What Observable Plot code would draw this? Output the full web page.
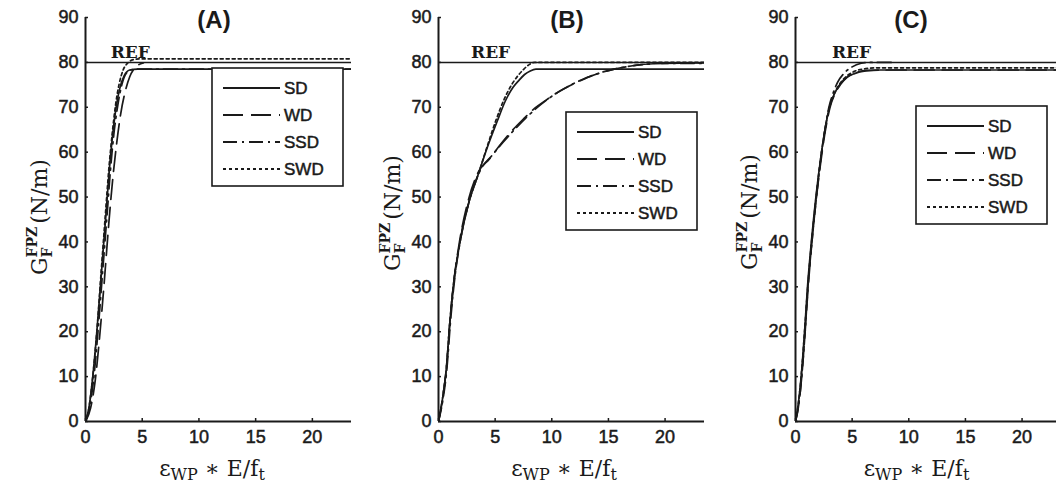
<!DOCTYPE html>
<html><head><meta charset="utf-8">
<script src="https://cdn.jsdelivr.net/npm/d3@7"></script>
<script src="https://cdn.jsdelivr.net/npm/@observablehq/plot@0.6"></script>
<style>
html,body{margin:0;padding:0;background:#fff;}
#wrap{position:relative;width:1056px;height:483px;overflow:hidden;background:#fff;}
#wrap svg{position:absolute;top:0;}
#wrap [aria-label$="tick label"] text, #wrap .legtext {stroke:#1a1a1a; stroke-width:0.5px;}
</style></head><body><div id="wrap"></div>
<script>
// ---------- data ----------
const seriesNames = ["SD", "WD", "SSD", "SWD"];
const panelTitles = ["(A)", "(B)", "(C)"];
const refValue = 80;
const refLabel = "REF";
const refLabelX = [3.95, 4.6, 4.95];
const xTicks = [0, 5, 10, 15, 20];
const yTicks = [0, 10, 20, 30, 40, 50, 60, 70, 80, 90];

// Panel A
const A_SD  = [[0,0],[0.3,3],[0.6,9],[1.0,20],[1.4,33],[1.8,46],[2.1,56],[2.4,64],[2.7,70],[3.0,74],[3.4,77],[3.9,78.3],[4.6,78.5],[23.5,78.5]];
const A_WD  = [[0,0],[0.45,3],[0.85,9],[1.25,19],[1.65,31],[2.05,44],[2.4,54],[2.75,62],[3.1,68.5],[3.5,73.5],[3.9,76.8],[4.3,78.6],[4.7,79.5],[5.1,79.9]];
const A_SSD = [[0,0],[0.35,3],[0.7,9],[1.1,20],[1.5,33],[1.9,46],[2.2,56],[2.5,64],[2.85,70.5],[3.2,75],[3.6,77.6],[4.1,78.4],[4.6,78.5],[23.5,78.5]];
const A_SWD = [[0,0],[0.3,3],[0.6,9],[1.0,20],[1.4,34],[1.75,46],[2.05,56],[2.35,64],[2.65,70.5],[2.95,75],[3.3,78.2],[3.7,79.8],[4.2,80.6],[4.8,80.8],[23.5,80.8]];

// Panel B
const B_SD  = [[0,0],[0.35,5],[0.7,12],[1.0,22],[1.3,30],[1.9,40],[2.7,49],[3.5,55],[4.3,61],[5.2,67],[5.9,71.4],[6.6,74.5],[7.1,76],[7.6,77.3],[8.1,78.1],[8.6,78.5],[23.5,78.5]];
const B_WD  = [[0,0],[0.35,5],[0.7,12],[1.0,22],[1.3,30],[1.85,40],[2.6,49],[3.5,55.5],[4.5,58.5],[5.5,61.8],[6.5,64.8],[7.5,67.4],[8.5,69.8],[9.5,71.6],[10.5,73.3],[11.5,74.7],[12.5,75.9],[13.5,77],[14.5,77.8],[15.5,78.5],[17,79.2],[19,79.7],[23.5,79.9]];
const B_SSD = [[0,0],[0.4,5],[0.75,12],[1.05,22],[1.35,30],[1.9,40],[2.7,49],[3.7,56],[4.7,59.2],[5.7,62.2],[6.7,65],[7.7,67.6],[8.7,69.9],[9.7,71.9],[10.7,73.6],[11.7,75],[12.7,76.2],[13.7,77.2],[14.7,78],[15.7,78.6],[17,79.2],[18.5,79.6],[20,79.8],[23.5,79.8]];
const B_SWD = [[0,0],[0.35,5],[0.7,12],[1.0,22],[1.3,30],[1.9,40],[2.7,49],[3.5,55],[4.3,61.3],[5.1,67.3],[5.8,71.8],[6.5,75.2],[7.0,77],[7.5,78.4],[8.0,79.5],[8.5,80],[23.5,80]];

// Panel C
const C_SD  = [[0,0],[0.25,4],[0.5,10],[0.8,20],[1.06,30],[1.4,40],[1.8,50],[2.3,60],[2.6,65],[3.0,70],[3.4,72.8],[3.9,75],[4.5,76.6],[5.2,77.5],[6.2,78.1],[7.5,78.3],[23.5,78.3]];
const C_WD  = [[0,0],[0.3,4],[0.55,10],[0.85,20],[1.12,30],[1.45,40],[1.85,50],[2.35,60],[2.65,65],[3.05,70],[3.45,72.8],[3.95,75],[4.6,76.8],[5.3,77.7],[6.3,78.2],[7.5,78.3],[23.5,78.3]];
const C_SSD = [[0,0],[0.3,4],[0.55,10],[0.85,20],[1.1,30],[1.45,40],[1.85,50],[2.3,60],[2.6,65],[2.95,70],[3.3,73],[3.7,75.5],[4.3,77.6],[5.0,79],[5.8,79.8],[6.5,80],[8.5,80]];
const C_SWD = [[0,0],[0.25,4],[0.5,10],[0.8,20],[1.08,30],[1.42,40],[1.82,50],[2.3,60],[2.6,65],[3.0,70],[3.4,72.9],[3.9,75.2],[4.5,76.9],[5.2,78],[6.2,78.6],[7.5,78.8],[23.5,78.8]];

const panelSeries = [
  {SD: A_SD, WD: A_WD, SSD: A_SSD, SWD: A_SWD},
  {SD: B_SD, WD: B_WD, SSD: B_SSD, SWD: B_SWD},
  {SD: C_SD, WD: C_WD, SSD: C_SSD, SWD: C_SWD}
];

// ---------- styling / layout ----------
const ink = "#1a1a1a";
const dashes = {SD: null, WD: "20,8", SSD: "14,5,2,5", SWD: "3,3"};
const layout = [
  {left: 0,   mL: 85, mR: 1, xMax: 23.45, legX: 212, legY: 68,  titleX: 214, xlabDx: -6, ylabY: 217},
  {left: 352, mL: 86, mR: 0, xMax: 23.48, legX: 214, legY: 112, titleX: 215, xlabDx: -7, ylabY: 213},
  {left: 704, mL: 91, mR: 0, xMax: 23.04, legX: 212, legY: 106, titleX: 207, xlabDx: -9, ylabY: 212}
];

const wrap = document.getElementById("wrap");

layout.forEach((L, i) => {
  const S = panelSeries[i];
  const lineMarks = seriesNames.map(name =>
    Plot.line(S[name], {x: d => d[0], y: d => d[1], stroke: ink, strokeWidth: 1.7,
      strokeDasharray: dashes[name], clip: true, curve: "monotone-x"})
  );
  const chart = Plot.plot({
    width: 352, height: 483,
    marginLeft: L.mL, marginRight: L.mR, marginTop: 17, marginBottom: 62,
    x: {domain: [0, L.xMax]},
    y: {domain: [0, 90]},
    style: {fontFamily: "'Liberation Sans', Arial, sans-serif", fontSize: "18px", color: ink, background: "transparent", overflow: "visible"},
    marks: [
      Plot.axisX({ticks: xTicks, tickSize: -3, tickPadding: 12, label: null, strokeWidth: 1.5}),
      Plot.axisY({ticks: yTicks, tickSize: -3, tickPadding: 10, label: null, strokeWidth: 1.5}),
      Plot.ruleY([refValue], {stroke: ink, strokeWidth: 1.5}),
      ...lineMarks,
      Plot.text([refLabel], {x: refLabelX[i], y: refValue, text: d => d, lineAnchor: "bottom", dy: -4,
        fontFamily: "'DejaVu Serif', serif", fontWeight: "bold", fontSize: 17, fill: ink}),
      Plot.ruleY([0], {stroke: ink, strokeWidth: 2}),
      Plot.ruleX([0], {stroke: ink, strokeWidth: 2})
    ]
  });
  chart.style.left = L.left + "px";
  wrap.appendChild(chart);
  const svg = d3.select(chart);

  // title
  svg.append("text").attr("x", L.titleX).attr("y", 28).attr("text-anchor", "middle")
    .attr("font-family", "'Liberation Sans', Arial, sans-serif").attr("font-weight", "bold")
    .attr("font-size", 24).attr("fill", ink).text(panelTitles[i]);

  // y label
  const plotW = 352 - L.mL - L.mR;
  const yl = svg.append("text")
    .attr("transform", `translate(${L.mL - 38},${L.ylabY}) rotate(-90)`)
    .attr("text-anchor", "middle").attr("font-family", "'DejaVu Serif', serif")
    .attr("font-size", 22).attr("fill", ink);
  yl.append("tspan").text("G");
  yl.append("tspan").attr("font-size", 14).attr("font-weight", "bold").attr("dy", 5).text("F");
  yl.append("tspan").attr("font-size", 14).attr("font-weight", "bold").attr("dx", -10).attr("dy", -15).text("FPZ");
  yl.append("tspan").attr("dy", 10).attr("dx", 3).text("(N/m)");

  // x label
  const xl = svg.append("text")
    .attr("x", L.mL + plotW / 2 + L.xlabDx).attr("y", 476)
    .attr("text-anchor", "middle").attr("font-family", "'DejaVu Serif', serif")
    .attr("font-size", 22).attr("fill", ink);
  xl.append("tspan").text("ε");
  xl.append("tspan").attr("font-size", 16).attr("dy", 4).text("WP");
  xl.append("tspan").attr("dy", -4).text(" ∗ E/f");
  xl.append("tspan").attr("font-size", 16).attr("dy", 4).text("t");

  // legend
  const g = svg.append("g").attr("transform", `translate(${L.legX},${L.legY})`);
  g.append("rect").attr("width", 131).attr("height", 118).attr("fill", "#fff")
    .attr("stroke", ink).attr("stroke-width", 1.6);
  seriesNames.forEach((name, k) => {
    const yy = 20 + k * 27;
    g.append("line").attr("x1", 11).attr("x2", 68).attr("y1", yy).attr("y2", yy)
      .attr("stroke", ink).attr("stroke-width", 1.8)
      .attr("stroke-dasharray", dashes[name]);
    g.append("text").attr("class", "legtext").attr("x", 72).attr("y", yy).attr("dy", "0.36em")
      .attr("text-anchor", "start")
      .attr("font-family", "'Liberation Sans', Arial, sans-serif").attr("font-size", 17)
      .attr("fill", ink).text(name);
  });
});
</script></body></html>
